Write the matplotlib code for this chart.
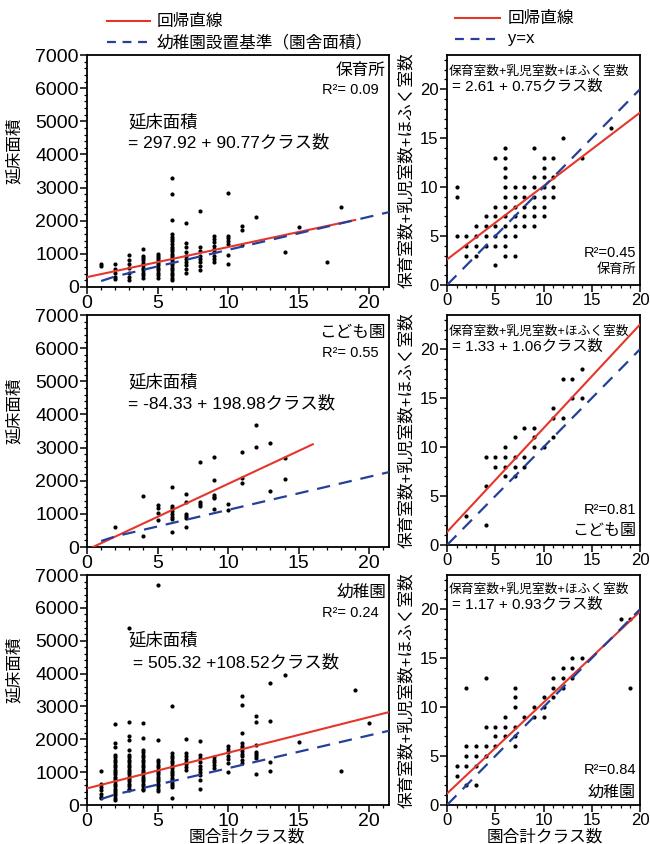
import matplotlib
matplotlib.use('Agg')
import matplotlib.pyplot as plt
from matplotlib.lines import Line2D
from matplotlib.ticker import MultipleLocator

plt.rcParams['font.family'] = ['Liberation Sans', 'Noto Sans CJK JP', 'DejaVu Sans']

# ---------------- data ----------------
# Left column: 延床面積 by class count (園合計クラス数)
area_hoikusho = {
    1: [700, 620],
    2: [680, 530, 420, 300, 250],
    3: [960, 820, 700, 560, 420, 300, 220],
    4: [1140, 950, 880, 800, 720, 650, 580, 500, 420, 350, 280],
    5: [1000, 950, 880, 800, 730, 650, 580, 500, 420, 350, 280],
    6: [3280, 2800, 2030, 1600, 1520, 1450, 1380, 1300, 1220, 1150, 1080, 1000,
        950, 880, 800, 730, 650, 580, 500, 420, 350, 280, 200],
    7: [1940, 1330, 1200, 1050, 950, 850, 750, 650, 550, 420],
    8: [2290, 1200, 1080, 950, 850, 750, 620, 510],
    9: [1550, 1450, 1350, 1250, 1150, 1050, 950, 850, 760],
    10: [2850, 1550, 1470, 1380, 1300, 960, 680],
    11: [1850, 1720, 1270],
    12: [2120],
    14: [1070],
    15: [1820],
    17: [760],
    18: [2420],
}
area_kodomoen = {
    2: [610],
    4: [1550, 340],
    5: [1270, 1180, 1030, 820],
    6: [1820, 1240, 1180, 1100, 1000, 920, 850, 460],
    7: [1600, 1350, 1000, 930, 870, 590],
    8: [2550, 1370, 1300, 1250],
    9: [2720, 2020, 1570, 1500, 1470, 1140],
    10: [1290, 1120],
    11: [2880, 2070, 1940],
    12: [3680, 3010],
    13: [3140, 1700],
    14: [2700, 2060],
}
area_youchien = {
    1: [1040, 650, 550, 450, 350, 250, 200],
    2: [2460, 1880, 1780, 1520, 1450, 1380, 1300, 1220, 1150, 1080, 1000, 930,
        860, 790, 720, 650, 580, 500, 430, 360, 290, 220, 150],
    3: [5400, 2520, 2100, 1980, 1680, 1520, 1450, 1380, 1300, 1220, 1150, 1080,
        1000, 930, 860, 790, 720, 650, 580, 500, 460],
    4: [2490, 2050, 1670, 1600, 1520, 1450, 1380, 1300, 1220, 1150, 1080, 1000,
        930, 860, 790, 720, 650, 580, 500, 460],
    5: [6700, 1980, 1370, 1300, 1220, 1150, 1080, 1000, 930, 860, 790, 720, 650,
        580, 500, 420],
    6: [3000, 1570, 1500, 1420, 1350, 1270, 1200, 1120, 1050, 970, 900, 830, 750,
        680, 600, 560, 220],
    7: [2020, 1570, 1480, 1400, 1320, 1240, 1150, 1070],
    8: [1940, 1520, 1420, 1300, 1200, 1100, 1000, 900, 760, 490],
    9: [1470, 1380, 1300, 1220, 1120],
    10: [1800, 1700, 1600, 1500, 1400, 1280, 1000],
    11: [3330, 3050, 2200, 1880, 1800, 1720, 1640, 1560, 1480, 1380, 1270],
    12: [2710, 2540, 1830, 1620, 1550, 1480, 1420, 930],
    13: [3700, 2560, 1320, 1040],
    14: [3960],
    15: [1930],
    18: [1040],
    19: [3500],
    20: [2500],
}

# Right column: 保育室数+乳児室数+ほふく室数 by class count
rooms_hoikusho = {
    1: [10, 9, 5],
    2: [5, 4, 3],
    3: [6, 5, 4, 3],
    4: [7, 6, 5, 4],
    5: [13, 8, 7, 6, 5, 4, 2],
    6: [14, 13, 12, 11, 10, 9, 8, 7, 6, 5, 4, 3],
    7: [10, 9, 8, 7, 6, 5, 3],
    8: [10, 9, 8, 7, 6],
    9: [14, 11, 10, 9, 8, 7, 6],
    10: [13, 12, 11, 10, 9, 8, 7],
    11: [13, 11, 10, 9],
    12: [15],
    14: [13],
    17: [16],
}
rooms_kodomoen = {
    2: [3],
    4: [9, 6, 2],
    5: [9, 8],
    6: [10, 9, 8, 7],
    7: [11, 9, 8, 7],
    8: [12, 9, 8],
    9: [12, 11, 10],
    10: [10],
    11: [14, 13, 11],
    12: [17, 13],
    13: [17, 15],
    14: [18, 15],
}
rooms_youchien = {
    1: [4, 3],
    2: [12, 6, 5, 4, 2],
    3: [6, 5, 4, 2],
    4: [13, 8, 6, 5],
    5: [8, 7, 6],
    6: [9, 8, 7],
    7: [12, 11, 10, 8, 7, 6],
    8: [9],
    9: [10, 9],
    10: [11, 10, 9],
    11: [13, 12, 11],
    12: [14, 13, 12],
    13: [15, 14, 13],
    14: [15],
    18: [19],
    19: [19, 12],
}

# 幼稚園設置基準（園舎面積）
std_classes = [1, 2, 22]
std_area = [180, 320, 2320]

# regression coefficients (intercept, slope) and fitted ranges
area_fits = [(297.92, 90.77, 0, 19), (-84.33, 198.98, 0.42, 16), (505.32, 108.52, 0, 21.4)]
room_fits = [(2.61, 0.75), (1.33, 1.06), (1.17, 0.93)]
area_r2 = ['0.09', '0.55', '0.24']
room_r2 = ['0.45', '0.81', '0.84']
type_names = ['保育所', 'こども園', '幼稚園']
area_eq = ['= 297.92 + 90.77クラス数', '= -84.33 + 198.98クラス数', ' = 505.32 +108.52クラス数']
room_eq = ['= 2.61 + 0.75クラス数', '= 1.33 + 1.06クラス数', '= 1.17 + 0.93クラス数']

# ---------------- figure ----------------
W, H = 650, 844
fig = plt.figure(figsize=(6.5, 8.44), dpi=100)
RED = '#e5362c'
BLUE = '#26409a'


def fx(x):
    return x / W


def fy(y):
    return 1 - y / H


def axes_px(l, t, r, b):
    return fig.add_axes([l / W, 1 - b / H, (r - l) / W, (b - t) / H])


def flatten(d):
    xs, ys = [], []
    for k, vals in d.items():
        for v in vals:
            xs.append(k)
            ys.append(v)
    return xs, ys


def style(ax, labelsize):
    for s in ax.spines.values():
        s.set_linewidth(1.3)
    ax.tick_params(which='major', direction='out', length=5, width=1.1,
                   labelsize=labelsize, pad=1)
    ax.tick_params(which='minor', direction='out', length=2.5, width=0.9)


left_rows = [(55, 287), (315, 547), (575, 805)]
right_rows = [(55, 285), (315, 545), (575, 805)]
area_data = [area_hoikusho, area_kodomoen, area_youchien]
room_data = [rooms_hoikusho, rooms_kodomoen, rooms_youchien]

eq_pos = [(122, 142), (382, 403), (640, 662)]
name_pos_left = [(70, 90), (332, 353), (592, 613)]
room_eq_pos = [(72, 87), (332, 347), (590, 605)]
right_r2_pos = [(253, 270), (510, 530), (770, 792)]
right_name_size = [9.5, 11.5, 11.5]

for i in range(3):
    # ---- left panel ----
    t, b = left_rows[i]
    ax = axes_px(87, t, 389, b)
    xs, ys = flatten(area_data[i])
    ax.scatter(xs, ys, s=9, c='black', linewidths=0, zorder=3)
    a0, a1, x0, x1 = area_fits[i]
    ax.plot([x0, x1], [a0 + a1 * x0, a0 + a1 * x1], color=RED, lw=1.5, zorder=4)
    ax.plot(std_classes, std_area, color=BLUE, lw=1.6, dashes=(6, 4), zorder=4)
    ax.set_xlim(0, 21.4)
    ax.set_ylim(0, 7000)
    ax.xaxis.set_major_locator(MultipleLocator(5))
    ax.xaxis.set_minor_locator(MultipleLocator(1))
    ax.yaxis.set_major_locator(MultipleLocator(1000))
    ax.yaxis.set_minor_locator(MultipleLocator(200))
    style(ax, 14)
    ax.set_ylabel('延床面積', fontsize=12)
    ax.yaxis.set_label_coords(-0.215, 0.586)
    fig.text(fx(128), fy(eq_pos[i][0]), '延床面積', fontsize=12.5, ha='left', va='center')
    fig.text(fx(128), fy(eq_pos[i][1]), area_eq[i], fontsize=12.5, ha='left', va='center')
    fig.text(fx(386), fy(name_pos_left[i][0]), type_names[i], fontsize=12, ha='right', va='center')
    fig.text(fx(379), fy(name_pos_left[i][1]), 'R²= ' + area_r2[i], fontsize=10.5, ha='right', va='center')

    # ---- right panel ----
    t, b = right_rows[i]
    ax = axes_px(447, t, 640, b)
    xs, ys = flatten(room_data[i])
    ax.scatter(xs, ys, s=9, c='black', linewidths=0, zorder=3)
    r0, r1 = room_fits[i]
    ax.plot([0, 20], [r0, r0 + r1 * 20], color=RED, lw=1.5, zorder=4)
    ax.plot([0, 20], [0, 20], color=BLUE, lw=1.6, dashes=(6, 4), zorder=4)
    ax.set_xlim(0, 20)
    ax.set_ylim(0, 23.5)
    ax.xaxis.set_major_locator(MultipleLocator(5))
    ax.xaxis.set_minor_locator(MultipleLocator(1))
    ax.yaxis.set_major_locator(MultipleLocator(5))
    ax.yaxis.set_minor_locator(MultipleLocator(1))
    style(ax, 12)
    ax.set_ylabel('保育室数+乳児室数+ほふく室数', fontsize=12)
    ax.yaxis.set_label_coords(-0.17, 0.5)
    fig.text(fx(449), fy(room_eq_pos[i][0]), '保育室数+乳児室数+ほふく室数', fontsize=9.2,
             ha='left', va='center')
    fig.text(fx(452), fy(room_eq_pos[i][1]), room_eq[i], fontsize=11, ha='left', va='center')
    fig.text(fx(636), fy(right_r2_pos[i][0]), 'R²=' + room_r2[i], fontsize=10.5, ha='right', va='center')
    fig.text(fx(636), fy(right_r2_pos[i][1]), type_names[i], fontsize=right_name_size[i],
             ha='right', va='center')

    if i == 2:
        fig.text(fx(247), fy(837), '園合計クラス数', fontsize=12, ha='center', va='center')
        fig.text(fx(545), fy(837), '園合計クラス数', fontsize=12, ha='center', va='center')

# ---------------- legends ----------------
fig.add_artist(Line2D([fx(107), fx(150)], [fy(21), fy(21)], color=RED, lw=1.5,
                      transform=fig.transFigure))
fig.text(fx(157), fy(21), '回帰直線', fontsize=12, ha='left', va='center')
fig.add_artist(Line2D([fx(107), fx(150)], [fy(42), fy(42)], color=BLUE, lw=1.6,
                      dashes=(4, 3), transform=fig.transFigure))
fig.text(fx(157), fy(42), '幼稚園設置基準（園舎面積）', fontsize=12, ha='left', va='center')

fig.add_artist(Line2D([fx(455), fx(500)], [fy(18), fy(18)], color=RED, lw=1.5,
                      transform=fig.transFigure))
fig.text(fx(508), fy(18), '回帰直線', fontsize=12, ha='left', va='center')
fig.add_artist(Line2D([fx(455), fx(500)], [fy(39), fy(39)], color=BLUE, lw=1.6,
                      dashes=(4, 3), transform=fig.transFigure))
fig.text(fx(508), fy(39), 'y=x', fontsize=12, ha='left', va='center')

fig.savefig('out.png', dpi=100)
